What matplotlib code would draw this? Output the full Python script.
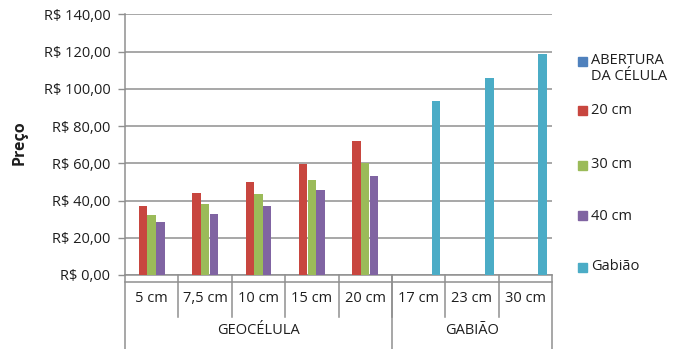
import matplotlib
matplotlib.use("Agg")
import matplotlib.pyplot as plt
from matplotlib.patches import Rectangle
from matplotlib.lines import Line2D
from matplotlib.transforms import blended_transform_factory
import numpy as np

# Data
categories = ["5 cm", "7,5 cm", "10 cm", "15 cm", "20 cm", "17 cm", "23 cm", "30 cm"]
groups = ["GEOCÉLULA", "GABIÃO"]
group_sizes = [5, 3]
series_names = ["ABERTURA\nDA CÉLULA", "20 cm", "30 cm", "40 cm", "Gabião"]
abertura = [np.nan] * 8
s20 = [37.3, 44.3, 50.1, 59.8, 71.8, np.nan, np.nan, np.nan]
s30 = [32.0, 37.9, 43.5, 51.2, 60.2, np.nan, np.nan, np.nan]
s40 = [28.2, 33.0, 37.3, 45.8, 53.3, np.nan, np.nan, np.nan]
gabiao = [np.nan, np.nan, np.nan, np.nan, np.nan, 93.4, 106.0, 118.5]
yticks = [0, 20, 40, 60, 80, 100, 120, 140]
ytick_labels = ["R$ 0,00", "R$ 20,00", "R$ 40,00", "R$ 60,00", "R$ 80,00",
                "R$ 100,00", "R$ 120,00", "R$ 140,00"]

colors = ["#4F81BD", "#C8463F", "#9BBB59", "#8064A2", "#4BACC6"]
grid_c = "#8f8f8f"
text_c = "#1e1e1e"
fs = 10.5

plt.rcParams["font.family"] = ["Open Sans", "DejaVu Sans"]

W, H = 678, 349
fig = plt.figure(figsize=(W / 100, H / 100), dpi=100)
ax_l, ax_r, ax_t, ax_b = 125, 552, 14.3, 275
ax = fig.add_axes([ax_l / W, 1 - ax_b / H, (ax_r - ax_l) / W, (ax_b - ax_t) / H])

x = np.arange(len(categories))
all_series = [abertura, s20, s30, s40, gabiao]
slot = 0.163
for i, vals in enumerate(all_series):
    ax.bar(x + (i - 2) * slot, vals, width=slot * 0.97, color=colors[i], zorder=3)

ax.set_xlim(-0.5, len(categories) - 0.5)
ax.set_ylim(0, 140)
ax.set_yticks(yticks)
ax.set_yticklabels(ytick_labels, fontsize=fs, color=text_c)
ax.tick_params(axis="y", length=5, width=1, color=grid_c, pad=5.5, direction="out")
ax.set_xticks([])
ax.yaxis.grid(True, color=grid_c, linewidth=1.1, zorder=0)
for s in ["top", "right", "bottom"]:
    ax.spines[s].set_visible(False)
ax.spines["left"].set_color(grid_c)
ax.spines["left"].set_linewidth(1.1)

# Category axis table below the plot
span = ax_b - ax_t
def fy(py):
    return (ax_b - py) / span

tr = blended_transform_factory(ax.transData, ax.transAxes)
lw = 1.1
def vline(xd, y0, y1):
    ax.add_line(Line2D([xd, xd], [fy(y0), fy(y1)], transform=tr, color=grid_c,
                       linewidth=lw, clip_on=False))

def hline(py):
    ax.add_line(Line2D([-0.5, len(categories) - 0.5], [fy(py), fy(py)], transform=tr,
                       color=grid_c, linewidth=lw, clip_on=False))

hline(275)
hline(282)
# separators between categories
for b in np.arange(0.5, len(categories) - 0.5):
    vline(b, 275, 317)
# separators between groups and outer edges
edges = np.cumsum([0] + group_sizes) - 0.5
for e in edges:
    vline(e, 275, 349)

for xi, lab in zip(x, categories):
    ax.text(xi, fy(298), lab, transform=tr, ha="center", va="center",
            fontsize=fs, color=text_c)
for gi, g in enumerate(groups):
    mid = (edges[gi] + edges[gi + 1]) / 2
    ax.text(mid, fy(331), g, transform=tr, ha="center", va="center",
            fontsize=fs, color=text_c)

fig.text(20 / W, 1 - 143 / H, "Preço", rotation=90, ha="center", va="center",
         fontsize=11.5, fontweight="bold", color=text_c)

# Legend
leg_y = [61, 110, 165, 216, 267]
sq = 9
for name, c, py in zip(series_names, colors, leg_y):
    fig.add_artist(Rectangle((578 / W, 1 - (py + sq / 2) / H), sq / W, sq / H,
                             transform=fig.transFigure, color=c))
    fig.text(591 / W, 1 - (py - 7.5) / H, name, ha="left", va="top",
             fontsize=fs, color=text_c, linespacing=1.0)

fig.savefig("out.png", dpi=100)
